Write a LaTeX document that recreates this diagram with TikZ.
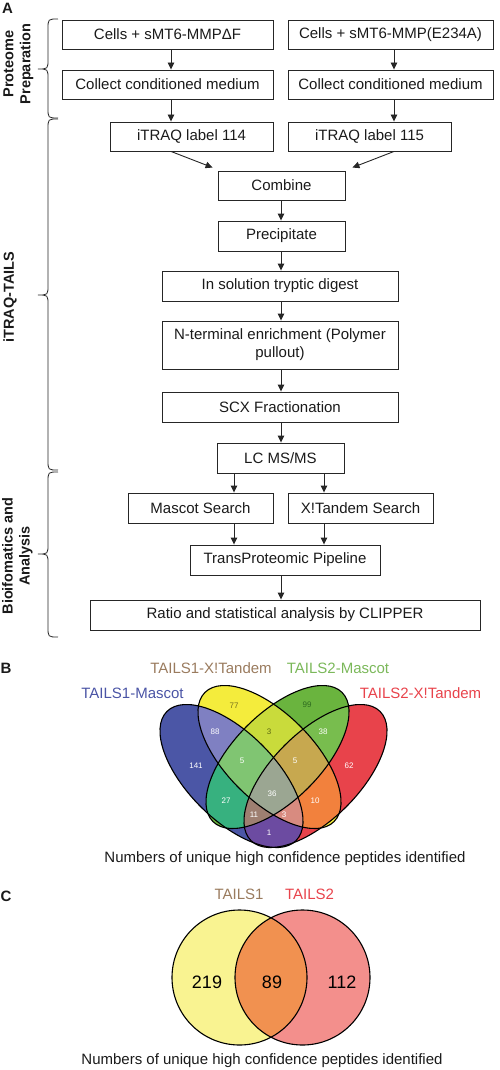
\documentclass[tikz,border=0pt]{standalone}
\usepackage{fontspec}
\setmainfont{Liberation Sans}
\usetikzlibrary{arrows.meta}
\definecolor{boxline}{HTML}{262626}
\definecolor{txt}{HTML}{1A1A1A}
\definecolor{cB}{HTML}{4B56A6}
\definecolor{cY}{HTML}{F4EC3C}
\definecolor{cG}{HTML}{6AB43E}
\definecolor{cR}{HTML}{E8434B}
\definecolor{cBY}{HTML}{7F80C2}
\definecolor{cYG}{HTML}{C9DB3B}
\definecolor{cGR}{HTML}{78BD4E}
\definecolor{cBG}{HTML}{37B17F}
\definecolor{cYR}{HTML}{F2813D}
\definecolor{cBR}{HTML}{6C4BA1}
\definecolor{cBYG}{HTML}{80C572}
\definecolor{cYGR}{HTML}{C7A84F}
\definecolor{cBGR}{HTML}{9E7F71}
\definecolor{cBYR}{HTML}{D88B80}
\definecolor{cAll}{HTML}{9BA692}
\definecolor{lblB}{HTML}{4A54A5}
\definecolor{lblBr}{HTML}{9A7B5E}
\definecolor{lblG}{HTML}{7BB85A}
\definecolor{lblR}{HTML}{E8434B}
\definecolor{dkY}{HTML}{75701E}
\definecolor{dkG}{HTML}{2D6A1F}
\definecolor{dkYG}{HTML}{5E6A10}
\definecolor{cYc}{HTML}{F9F391}
\definecolor{cRc}{HTML}{F38F8C}
\definecolor{cOc}{HTML}{F19150}
\def\EB{(231.5,776) circle [x radius=91.3pt, y radius=43.5pt, rotate=-45]}
\def\EY{(269.5,757) circle [x radius=91.3pt, y radius=43.5pt, rotate=-45]}
\def\EG{(277.5,757) circle [x radius=91.3pt, y radius=43.5pt, rotate=45]}
\def\ER{(315.5,776) circle [x radius=91.3pt, y radius=43.5pt, rotate=45]}
\def\CL{(239.5,977.5) circle (67.5pt)}
\def\CR{(302.5,977.5) circle (67.5pt)}
\begin{document}
\begin{tikzpicture}[x=1pt,y=-1pt,
  box/.style={draw=boxline, line width=0.9pt, inner sep=0pt, align=center,
    font=\fontsize{15}{18}\selectfont, text=txt},
  arr/.style={-{Triangle[length=7pt,width=6.5pt]}, line width=0.9pt, draw=boxline},
  brc/.style={line width=0.8pt, draw=boxline},
  side/.style={font=\fontsize{14.5}{17}\selectfont\bfseries, rotate=90, align=center, inner sep=0pt, text=txt},
  panel/.style={font=\fontsize{15}{18}\selectfont\bfseries, inner sep=0pt, text=txt},
  lbl/.style={font=\fontsize{15}{18}\selectfont, inner sep=0pt},
  num/.style={font=\fontsize{8}{10}\selectfont, inner sep=0pt, text=white},
  bignum/.style={font=\fontsize{18}{20}\selectfont, inner sep=0pt, text=black},
  vline/.style={draw=black, line width=1.1pt}
]
\useasboundingbox (0,0) rectangle (500,1070);

% ---------- Panel A ----------
\node[panel] (pA) at (7.5,8) {A};

\node[box, minimum width=211pt, minimum height=29pt] (c1) at (167.5,34.5) {Cells + sMT6-MMPΔF};
\node[box, minimum width=205pt, minimum height=29pt] (c2) at (390.5,34.5) {Cells + sMT6-MMP(E234A)};
\node[box, minimum width=211pt, minimum height=29pt] (m1) at (167.5,84.5) {Collect conditioned medium};
\node[box, minimum width=205pt, minimum height=29pt] (m2) at (390.5,84.5) {Collect conditioned medium};
\node[box, minimum width=163pt, minimum height=29pt] (i1) at (191.5,136.5) {iTRAQ label 114};
\node[box, minimum width=163pt, minimum height=29pt] (i2) at (369.5,136.5) {iTRAQ label 115};
\node[box, minimum width=127pt, minimum height=29pt] (comb) at (281.5,185.5) {Combine};
\node[box, minimum width=127pt, minimum height=30pt] (prec) at (281.5,236) {Precipitate};
\node[box, minimum width=236pt, minimum height=30pt] (dig) at (280,286) {In solution tryptic digest};
\node[box, minimum width=236pt, minimum height=48pt] (nterm) at (280,345) {N-terminal enrichment (Polymer\\pullout)};
\node[box, minimum width=236pt, minimum height=30pt] (scx) at (280,407) {SCX Fractionation};
\node[box, minimum width=127pt, minimum height=30pt] (lc) at (280.5,458) {LC MS/MS};
\node[box, minimum width=145pt, minimum height=30pt] (masc) at (200.5,508) {Mascot Search};
\node[box, minimum width=145pt, minimum height=30pt] (xt) at (360.5,508) {X!Tandem Search};
\node[box, minimum width=190pt, minimum height=30pt] (tpp) at (285,560) {TransProteomic Pipeline};
\node[box, minimum width=390pt, minimum height=30pt] (ratio) at (285,615) {Ratio and statistical analysis by CLIPPER};

\coordinate (xL) at (171,0);
\coordinate (xR) at (394,0);
\coordinate (xM) at (281,0);
\coordinate (xa) at (234,0);
\coordinate (xb) at (324,0);

\draw[arr] (c1.south -| xL) -- (m1.north -| xL);
\draw[arr] (m1.south -| xL) -- (i1.north -| xL);
\draw[arr] (c2.south -| xR) -- (m2.north -| xR);
\draw[arr] (m2.south -| xR) -- (i2.north -| xR);
\draw[arr] (i1.south -| xL) -- ([shift={(-5,-3)}]comb.north west);
\draw[arr] (i2.south -| xR) -- ([shift={(7,-3)}]comb.north east);
\draw[arr] (comb.south -| xM) -- (prec.north -| xM);
\draw[arr] (prec.south -| xM) -- (dig.north -| xM);
\draw[arr] (dig.south -| xM) -- (nterm.north -| xM);
\draw[arr] (nterm.south -| xM) -- (scx.north -| xM);
\draw[arr] (scx.south -| xM) -- (lc.north -| xM);
\draw[arr] (lc.south -| xa) -- (masc.north -| xa);
\draw[arr] (lc.south -| xb) -- (xt.north -| xb);
\draw[arr] (masc.south -| xa) -- (tpp.north -| xa);
\draw[arr] (xt.south -| xb) -- (tpp.north -| xb);
\draw[arr] (tpp.south -| xM) -- (ratio.north -| xM);

% braces
\draw[brc] (58,19) .. controls (48,19) .. (48,29) -- (48,59) .. controls (48,69) .. (38,69)
  .. controls (48,69) .. (48,79) -- (48,108) .. controls (48,118) .. (58,118);
\draw[brc] (58,119) .. controls (48,119) .. (48,129) -- (48,285) .. controls (48,295) .. (38,295)
  .. controls (48,295) .. (48,305) -- (48,460) .. controls (48,470) .. (58,470);
\draw[brc] (58,472) .. controls (48,472) .. (48,482) -- (48,544) .. controls (48,554) .. (38,554)
  .. controls (48,554) .. (48,564) -- (48,627) .. controls (48,637) .. (58,637);

\node[side] (lp) at (18.5,64) {Proteome\\Preparation};
\node[side] (li) at (10,297) {iTRAQ-TAILS};
\node[side] (lb) at (17.5,556) {Bioifomatics and\\Analysis};

% ---------- Panel B ----------
\node[panel] (pB) at (6,668) {B};

\fill[cB] \EB;
\fill[cY] \EY;
\fill[cG] \EG;
\fill[cR] \ER;
\begin{scope}\clip \EB; \fill[cBY] \EY; \end{scope}
\begin{scope}\clip \EB; \fill[cBG] \EG; \end{scope}
\begin{scope}\clip \EB; \fill[cBR] \ER; \end{scope}
\begin{scope}\clip \EY; \fill[cYG] \EG; \end{scope}
\begin{scope}\clip \EY; \fill[cYR] \ER; \end{scope}
\begin{scope}\clip \EG; \fill[cGR] \ER; \end{scope}
\begin{scope}\clip \EB; \clip \EY; \fill[cBYG] \EG; \end{scope}
\begin{scope}\clip \EB; \clip \EY; \fill[cBYR] \ER; \end{scope}
\begin{scope}\clip \EB; \clip \EG; \fill[cBGR] \ER; \end{scope}
\begin{scope}\clip \EY; \clip \EG; \fill[cYGR] \ER; \end{scope}
\begin{scope}\clip \EB; \clip \EY; \clip \EG; \fill[cAll] \ER; \end{scope}
\draw[vline] \EB;
\draw[vline] \EY;
\draw[vline] \EG;
\draw[vline] \ER;

\node[num, text=dkY] (n77) at (234,706) {77};
\node[num, text=dkG] (n99) at (307,705) {99};
\node[num] (n88) at (215,732) {88};
\node[num, text=dkYG] (n3a) at (269,732) {3};
\node[num] (n38) at (323,732) {38};
\node[num] (n141) at (196,766) {141};
\node[num] (n5a) at (242,761) {5};
\node[num] (n5b) at (295,761) {5};
\node[num] (n62) at (349,766) {62};
\node[num] (n36) at (272,794) {36};
\node[num] (n27) at (226,801) {27};
\node[num] (n10) at (315,801) {10};
\node[num] (n11) at (254,815) {11};
\node[num] (n3b) at (284,815) {3};
\node[num] (n1) at (269,833) {1};

\node[lbl, text=lblB] (tB) at (132.5,693) {TAILS1-Mascot};
\node[lbl, text=lblBr] (tY) at (211,668) {TAILS1-X!Tandem};
\node[lbl, text=lblG] (tG) at (338,668) {TAILS2-Mascot};
\node[lbl, text=lblR] (tR) at (420.5,693) {TAILS2-X!Tandem};
\node[lbl, text=txt] (capB) at (285,859) {Numbers of unique high confidence peptides identified};

% ---------- Panel C ----------
\node[panel] (pC) at (6,896) {C};
\fill[cYc] \CL;
\fill[cRc] \CR;
\begin{scope}\clip \CL; \fill[cOc] \CR; \end{scope}
\draw[vline] \CL;
\draw[vline] \CR;
\node[bignum] (n219) at (207,982) {219};
\node[bignum] (n89) at (272,982) {89};
\node[bignum] (n112) at (342,982) {112};
\node[lbl, text=lblBr] (t1) at (239,894) {TAILS1};
\node[lbl, text=lblR] (t2) at (309.5,894) {TAILS2};
\node[lbl, text=txt] (capC) at (262,1061) {Numbers of unique high confidence peptides identified};
\end{tikzpicture}
\end{document}
